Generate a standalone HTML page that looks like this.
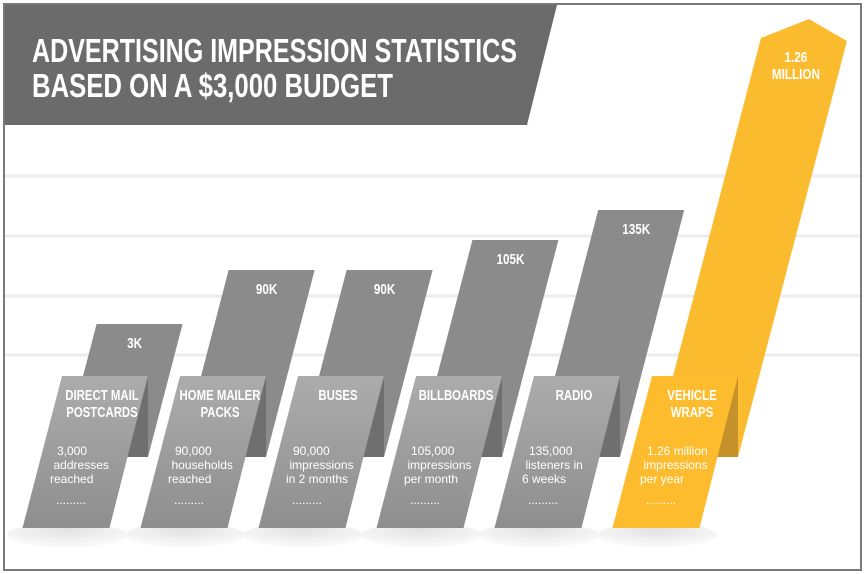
<!DOCTYPE html>
<html><head><meta charset="utf-8"><style>
html,body{margin:0;padding:0;background:#fff;}
svg{display:block;}
text{font-family:"Liberation Sans",sans-serif;}
.cond{font-weight:bold;fill:#fff;}
.desc{font-size:12px;fill:#fff;}
</style></head><body>
<svg id="chart" width="865" height="574" viewBox="0 0 865 574">
<defs>
<linearGradient id="cardG" x1="0" y1="0" x2="0" y2="1"><stop offset="0" stop-color="#acacac"/><stop offset="1" stop-color="#8e8e8e"/></linearGradient>
<radialGradient id="shadowG" cx="0.5" cy="0.3" r="0.6"><stop offset="0" stop-color="#e2e2e2"/><stop offset="1" stop-color="#f8f8f8"/></radialGradient>
</defs>
<rect x="4" y="4" width="857" height="566" fill="#fff" stroke="#7a7a7a" stroke-width="2"/>
<g id="grid"></g>
<g id="bars"></g>
<polygon points="5,5 557,5 527,125 5,125" fill="#6b6b6b"/>
<text x="32" y="62" class="cond" font-size="33" textLength="485" lengthAdjust="spacingAndGlyphs">ADVERTISING IMPRESSION STATISTICS</text>
<text x="32" y="97" class="cond" font-size="33" textLength="361" lengthAdjust="spacingAndGlyphs">BASED ON A $3,000 BUDGET</text>
</svg>
<script>
const categories = [["DIRECT MAIL","POSTCARDS"],["HOME MAILER","PACKS"],["BUSES"],["BILLBOARDS"],["RADIO"],["VEHICLE","WRAPS"]];
const values = [3, 90, 90, 105, 135, 1260];
const valueLabels = [["3K"],["90K"],["90K"],["105K"],["135K"],["1.26","MILLION"]];
const descriptions = [["3,000","addresses","reached"],["90,000","households","reached"],["90,000","impressions","in 2 months"],["105,000","impressions","per month"],["135,000","listeners in","6 weeks"],["1.26 million","impressions","per year"]];

const NS="http://www.w3.org/2000/svg";
const dom=[0,3,90,105,135,1260], rng=[340,324,270,240,210,38];
function yScale(v){
  for(let i=0;i<dom.length-1;i++){
    if(v<=dom[i+1]||i===dom.length-2){
      const t=(v-dom[i])/(dom[i+1]-dom[i]);
      return rng[i]+t*(rng[i+1]-rng[i]);
    }
  }
}
function xBand(i){return 62+i*118;}
const SL=0.26, BASE=457, CT=376, CB=528;
function mk(tag,attrs,parent){const e=document.createElementNS(NS,tag);for(const k in attrs)e.setAttribute(k,attrs[k]);parent.appendChild(e);return e;}
const grid=document.getElementById('grid');
[176,236,296,355].forEach(y=>{
  const l=mk('line',{x1:5,x2:860,y1:y,y2:y,stroke:'#ececec','stroke-width':3},grid);
  
  
});
const bars=document.getElementById('bars');
values.forEach((v,i)=>{
  const x0=xBand(i), yellow=i===5;
  const back=yellow?'#fbbb2e':'#8b8b8b', fold=yellow?'#c4912a':'#6f6f6f', card=yellow?'#fdbc2e':'url(#cardG)';
  const top=yScale(v);
  const rb=x0+86, rt=rb+SL*(BASE-top), lt=rt-86, lb=lt-SL*(BASE-top);
  const g=mk('g',{},bars);
  
  
  const sh=mk('ellipse',{cx:x0+5,cy:CB+7,rx:60,ry:12,fill:'url(#shadowG)'},g);
  
  
  let pts;
  if(yellow){
    const mid=(lt+rt)/2+5;
    pts=`${lt},${top} ${mid},${top-19} ${rt},${top+3} ${rb},${BASE} ${lb},${BASE}`;
  } else pts=`${lt},${top} ${rt},${top} ${rb},${BASE} ${lb},${BASE}`;
  const b=mk('polygon',{points:pts,fill:back},g);
  
  
  const f=mk('polygon',{points:`${x0+86},${CT} ${x0+86},${BASE} ${x0+86-SL*(BASE-CT)},${BASE}`,fill:fold},g);
  
  
  const c=mk('polygon',{points:`${x0},${CT} ${x0+86},${CT} ${x0+87-SL*(CB-CT)},${CB} ${x0-SL*(CB-CT)},${CB}`,fill:card},g);
  
  
  const vcx=(lt+rt)/2+(yellow?-8:-5);
  valueLabels[i].forEach((s,k)=>{
    const t=mk('text',{x:vcx,y:top+(yellow?24:24)+k*17,'text-anchor':'middle','font-size':15,class:'cond',transform:`translate(${vcx},0) scale(0.78,1) translate(${-vcx},0)`},g);
    t.textContent=s;
    
    
  });
  const ccx=x0+40;
  categories[i].forEach((s,k)=>{
    const t=mk('text',{x:ccx,y:400+k*17,'text-anchor':'middle','font-size':15,class:'cond',transform:`translate(${ccx},0) scale(0.76,1) translate(${-ccx},0)`},g);
    t.textContent=s;
    
    
  });
  descriptions[i].forEach((s,k)=>{
    const t=mk('text',{x:x0-5-k*3.5,y:455+k*14,class:'desc'},g);
    t.textContent=s;
    
    
  });
  const d=mk('text',{x:x0-6,y:504,class:'desc','font-size':11},g);
  d.textContent='.........';
  
  
});
</script>
</body></html>
